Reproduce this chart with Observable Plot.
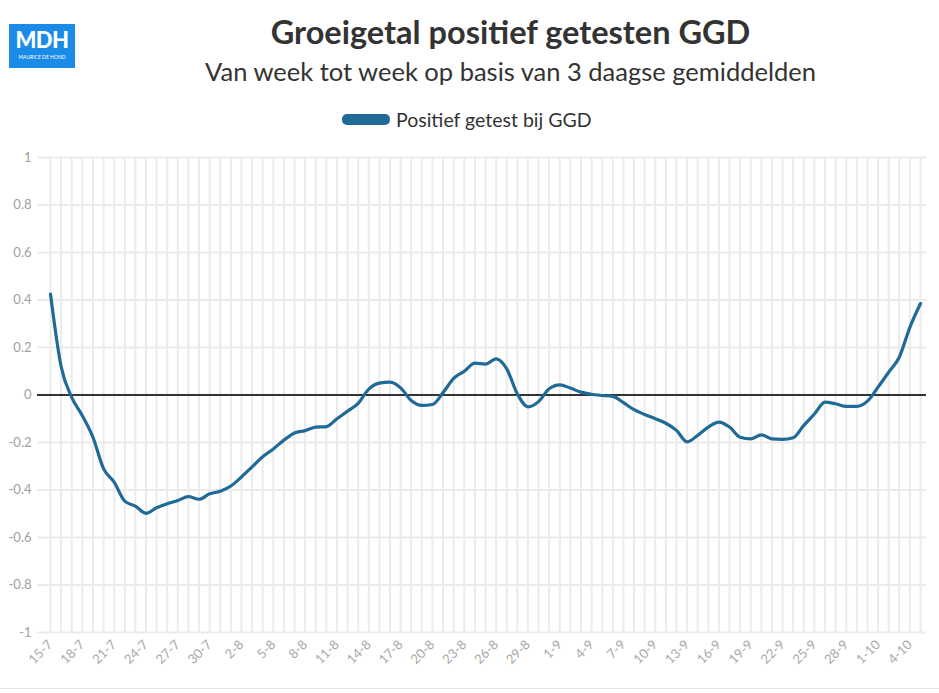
<!DOCTYPE html>
<html>
<head>
<meta charset="utf-8">
<script src="https://cdn.jsdelivr.net/npm/d3@7"></script>
<script src="https://cdn.jsdelivr.net/npm/@observablehq/plot@0.6"></script>
<style>
  html, body { margin: 0; padding: 0; background: #fff; }
  #page { position: relative; width: 939px; height: 693px; overflow: hidden; font-family: Lato, sans-serif; }
  #logo { position: absolute; left: 9px; top: 24px; width: 66px; height: 44px; background: #1a8be6; color: #fff; }
  #logo .big { position: absolute; left: 0; width: 66px; top: 5px; text-align: center; font-weight: 900; font-size: 22px; line-height: 22px; letter-spacing: -0.5px; }
  #logo .small { position: absolute; left: 0; width: 66px; top: 30px; text-align: center; font-size: 5px; line-height: 6px; }
  #title { position: absolute; left: 41px; width: 939px; top: 12px; text-align: center; font-weight: 700; font-size: 32.5px; color: #333; }
  #subtitle { position: absolute; left: 41px; width: 939px; top: 56px; text-align: center; font-size: 25.5px; color: #333; }
  #legend { position: absolute; left: 342px; top: 108px; font-size: 19.5px; color: #333; display: flex; align-items: center; }
  #legend .sw { display: inline-block; width: 48px; height: 11px; border-radius: 5px; background: #1f6a97; margin-right: 6px; }
  #chart { position: absolute; left: 0; top: 145px; }
  #bottomline { position: absolute; left: 0; width: 939px; top: 688px; height: 1px; background: #e2e2e2; }
</style>
</head>
<body>
<div id="page">
  <div id="logo"><div class="big">MDH</div><div class="small">MAURICE DE HOND</div></div>
  <div id="title">Groeigetal positief getesten GGD</div>
  <div id="subtitle">Van week tot week op basis van 3 daagse gemiddelden</div>
  <div id="legend"><span class="sw"></span><span>Positief getest bij GGD</span></div>
  <div id="chart"></div>
  <div id="bottomline"></div>
</div>
<script>
const dates = [
  "15-7","16-7","17-7","18-7","19-7","20-7","21-7","22-7","23-7","24-7","25-7","26-7","27-7","28-7","29-7","30-7","31-7",
  "1-8","2-8","3-8","4-8","5-8","6-8","7-8","8-8","9-8","10-8","11-8","12-8","13-8","14-8","15-8","16-8","17-8","18-8","19-8","20-8","21-8","22-8","23-8","24-8","25-8","26-8","27-8","28-8","29-8","30-8","31-8",
  "1-9","2-9","3-9","4-9","5-9","6-9","7-9","8-9","9-9","10-9","11-9","12-9","13-9","14-9","15-9","16-9","17-9","18-9","19-9","20-9","21-9","22-9","23-9","24-9","25-9","26-9","27-9","28-9","29-9","30-9",
  "1-10","2-10","3-10","4-10","5-10"
];
const groeigetal = [
  0.425, 0.12, -0.01, -0.087, -0.178, -0.31, -0.367, -0.447, -0.468, -0.498,
  -0.475, -0.458, -0.444, -0.428, -0.439, -0.416, -0.405, -0.383, -0.345, -0.303,
  -0.26, -0.227, -0.19, -0.16, -0.15, -0.135, -0.133, -0.10, -0.068, -0.035,
  0.025, 0.05, 0.054, 0.03, -0.023, -0.044, -0.04, 0.01, 0.07, 0.1,
  0.134, 0.13, 0.152, 0.11, 0.005, -0.05, -0.028, 0.026, 0.043, 0.029,
  0.012, 0.003, -0.002, -0.006, -0.032, -0.062, -0.082, -0.10, -0.119, -0.149,
  -0.197, -0.17, -0.135, -0.114, -0.135, -0.178, -0.185, -0.168, -0.185, -0.187,
  -0.18, -0.128, -0.08, -0.03, -0.037, -0.048, -0.048, -0.026, 0.033, 0.096,
  0.159, 0.285, 0.385
];
const xTickLabels = ["15-7","18-7","21-7","24-7","27-7","30-7","2-8","5-8","8-8","11-8","14-8","17-8","20-8","23-8","26-8","29-8","1-9","4-9","7-9","10-9","13-9","16-9","19-9","22-9","25-9","28-9","1-10","4-10"];
const yTicks = [-1, -0.8, -0.6, -0.4, -0.2, 0, 0.2, 0.4, 0.6, 0.8, 1];
const seriesName = "Positief getest bij GGD";

const data = dates.map((d, i) => ({date: d, value: groeigetal[i], series: seriesName}));

const chart = Plot.plot({
  width: 939,
  height: 548,
  marginTop: 12,
  marginBottom: 61,
  marginLeft: 37,
  marginRight: 13,
  style: {fontFamily: "Lato, sans-serif", background: "transparent"},
  x: {type: "point", domain: dates, padding: 0, insetLeft: 13, insetRight: 6},
  y: {domain: [-1, 1]},
  marks: [
    Plot.gridX(dates, {stroke: "#ebebeb", strokeOpacity: 1, strokeWidth: 2}),
    Plot.gridY(yTicks, {stroke: "#ebebeb", strokeOpacity: 1, strokeWidth: 2}),
    Plot.axisY(yTicks, {tickSize: 0, tickPadding: 6, fontSize: 13, color: "#a0a0a0", tickFormat: d => String(+d.toFixed(1)), label: null}),
    Plot.axisX(xTickLabels, {tickSize: 0, tickPadding: 10, tickRotate: -45, fontSize: 13, color: "#a8a8a8", label: null}),
    Plot.ruleY([0], {stroke: "#333", strokeWidth: 2}),
    Plot.lineY(data, {x: "date", y: "value", stroke: "#1f6a97", strokeWidth: 3.2, curve: "monotone-x"})
  ]
});
document.getElementById("chart").appendChild(chart);
</script>
</body>
</html>
